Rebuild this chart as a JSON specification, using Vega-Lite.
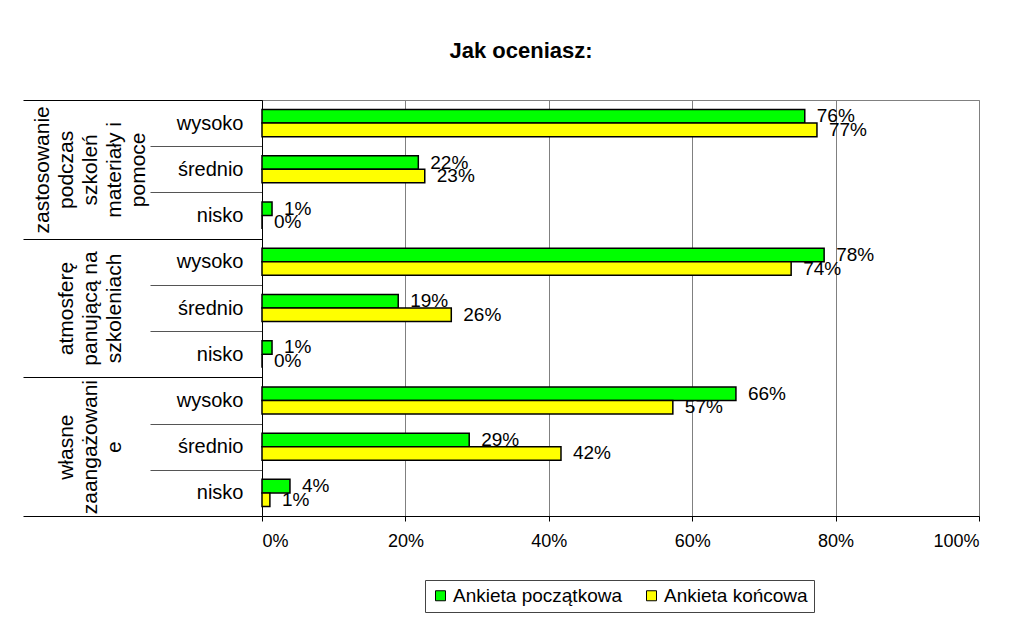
{
  "$schema": "https://vega.github.io/schema/vega-lite/v6.json",
  "autosize": {"type": "none"},
  "width": 717,
  "height": 416,
  "padding": {"left": 262, "top": 100, "right": 36, "bottom": 102},
  "background": "white",
  "config": {
    "font": "Liberation Sans",
    "view": {"stroke": "#808080", "strokeWidth": 1}
  },
  "title": {
    "text": "Jak oceniasz:",
    "font": "Liberation Sans",
    "fontSize": 22,
    "fontWeight": "bold",
    "color": "black",
    "anchor": "middle",
    "frame": "bounds",
    "baseline": "alphabetic",
    "offset": 10,
    "dx": 20
  },
  "data": {
    "values": [
      {"group": "zastosowanie|podczas|szkoleń|materiały i|pomoce", "level": "wysoko", "cat": "A / wysoko", "series": "Ankieta początkowa", "value": 0.757},
      {"group": "zastosowanie|podczas|szkoleń|materiały i|pomoce", "level": "wysoko", "cat": "A / wysoko", "series": "Ankieta końcowa", "value": 0.774},
      {"group": "zastosowanie|podczas|szkoleń|materiały i|pomoce", "level": "średnio", "cat": "A / średnio", "series": "Ankieta początkowa", "value": 0.218},
      {"group": "zastosowanie|podczas|szkoleń|materiały i|pomoce", "level": "średnio", "cat": "A / średnio", "series": "Ankieta końcowa", "value": 0.227},
      {"group": "zastosowanie|podczas|szkoleń|materiały i|pomoce", "level": "nisko", "cat": "A / nisko", "series": "Ankieta początkowa", "value": 0.014},
      {"group": "zastosowanie|podczas|szkoleń|materiały i|pomoce", "level": "nisko", "cat": "A / nisko", "series": "Ankieta końcowa", "value": 0.0},
      {"group": "atmosferę|panującą na|szkoleniach", "level": "wysoko", "cat": "B / wysoko", "series": "Ankieta początkowa", "value": 0.784},
      {"group": "atmosferę|panującą na|szkoleniach", "level": "wysoko", "cat": "B / wysoko", "series": "Ankieta końcowa", "value": 0.738},
      {"group": "atmosferę|panującą na|szkoleniach", "level": "średnio", "cat": "B / średnio", "series": "Ankieta początkowa", "value": 0.19},
      {"group": "atmosferę|panującą na|szkoleniach", "level": "średnio", "cat": "B / średnio", "series": "Ankieta końcowa", "value": 0.264},
      {"group": "atmosferę|panującą na|szkoleniach", "level": "nisko", "cat": "B / nisko", "series": "Ankieta początkowa", "value": 0.014},
      {"group": "atmosferę|panującą na|szkoleniach", "level": "nisko", "cat": "B / nisko", "series": "Ankieta końcowa", "value": 0.0},
      {"group": "własne|zaangażowani|e", "level": "wysoko", "cat": "C / wysoko", "series": "Ankieta początkowa", "value": 0.661},
      {"group": "własne|zaangażowani|e", "level": "wysoko", "cat": "C / wysoko", "series": "Ankieta końcowa", "value": 0.573},
      {"group": "własne|zaangażowani|e", "level": "średnio", "cat": "C / średnio", "series": "Ankieta początkowa", "value": 0.289},
      {"group": "własne|zaangażowani|e", "level": "średnio", "cat": "C / średnio", "series": "Ankieta końcowa", "value": 0.417},
      {"group": "własne|zaangażowani|e", "level": "nisko", "cat": "C / nisko", "series": "Ankieta początkowa", "value": 0.039},
      {"group": "własne|zaangażowani|e", "level": "nisko", "cat": "C / nisko", "series": "Ankieta końcowa", "value": 0.011}
    ]
  },
  "layer": [
    {
      "encoding": {
        "y": {
          "field": "cat",
          "type": "nominal",
          "sort": null,
          "scale": {"paddingInner": 0, "paddingOuter": 0},
          "axis": {
            "title": null,
            "orient": "left",
            "tickBand": "extent",
            "tickSize": 112,
            "tickColor": "#555555",
            "labelPadding": -93,
            "labelExpr": "split(datum.label, ' / ')[1]",
            "labelFontSize": 20,
            "labelColor": "black",
            "labelAlign": "right",
            "labelBaseline": "middle",
            "labelFont": "Liberation Sans",
            "domainColor": "black",
            "domainWidth": 1,
            "grid": false
          }
        },
        "yOffset": {
          "field": "series",
          "type": "nominal",
          "sort": ["Ankieta początkowa", "Ankieta końcowa"],
          "scale": {"paddingInner": 0, "paddingOuter": 0.71}
        },
        "x": {
          "field": "value",
          "type": "quantitative",
          "scale": {"domain": [0, 1], "nice": false},
          "axis": {
            "title": null,
            "values": [0, 0.2, 0.4, 0.6, 0.8, 1],
            "format": ".0%",
            "labelFontSize": 18,
            "labelColor": "black",
            "labelFont": "Liberation Sans",
            "labelPadding": 11,
            "tickSize": 5,
            "tickColor": "black",
            "domainColor": "black",
            "gridColor": "#808080",
            "gridWidth": 1,
            "grid": true
          }
        }
      },
      "layer": [
        {
          "mark": {"type": "bar", "stroke": "black", "strokeWidth": 1.5},
          "encoding": {
            "color": {
              "field": "series",
              "type": "nominal",
              "sort": ["Ankieta początkowa", "Ankieta końcowa"],
              "scale": {"domain": ["Ankieta początkowa", "Ankieta końcowa"], "range": ["#00FF00", "#FFFF00"]},
              "legend": {
                "title": null,
                "orient": "none",
                "legendX": 163,
                "legendY": 480,
                "direction": "horizontal",
                "symbolType": "square",
                "symbolSize": 100,
                "symbolStrokeColor": "black",
                "symbolStrokeWidth": 1,
                "symbolOpacity": 1,
                "labelFontSize": 19,
                "labelLimit": 400,
                "labelColor": "black",
                "labelFont": "Liberation Sans",
                "labelOffset": 3,
                "columnPadding": 20,
                "strokeColor": "#444444",
                "padding": 6,
                "fillColor": "white"
              }
            }
          }
        },
        {
          "mark": {"type": "text", "align": "left", "baseline": "middle", "dx": 12, "fontSize": 19, "font": "Liberation Sans", "color": "black"},
          "encoding": {
            "text": {"field": "value", "type": "quantitative", "format": ".0%"}
          }
        }
      ]
    },
    {
      "mark": {"type": "point", "opacity": 0},
      "encoding": {
        "x": {"field": "value", "type": "quantitative"},
        "y": {
          "field": "group",
          "type": "nominal",
          "sort": null,
          "scale": {"paddingInner": 0, "paddingOuter": 0},
          "axis": {
            "title": null,
            "orient": "left",
            "tickBand": "extent",
            "tickSize": 239,
            "tickColor": "black",
            "domain": false,
            "grid": false,
            "labelPadding": -29,
            "labelAngle": -90,
            "labelAlign": "center",
            "labelBaseline": "bottom",
            "labelExpr": "length(split(datum.label, '|')) < 5 ? split('||' + datum.label, '|') : split(datum.label, '|')",
            "labelLineHeight": 24,
            "labelFontSize": 21,
            "labelColor": "black",
            "labelFont": "Liberation Sans"
          }
        }
      }
    }
  ],
  "resolve": {"scale": {"y": "independent"}}
}
